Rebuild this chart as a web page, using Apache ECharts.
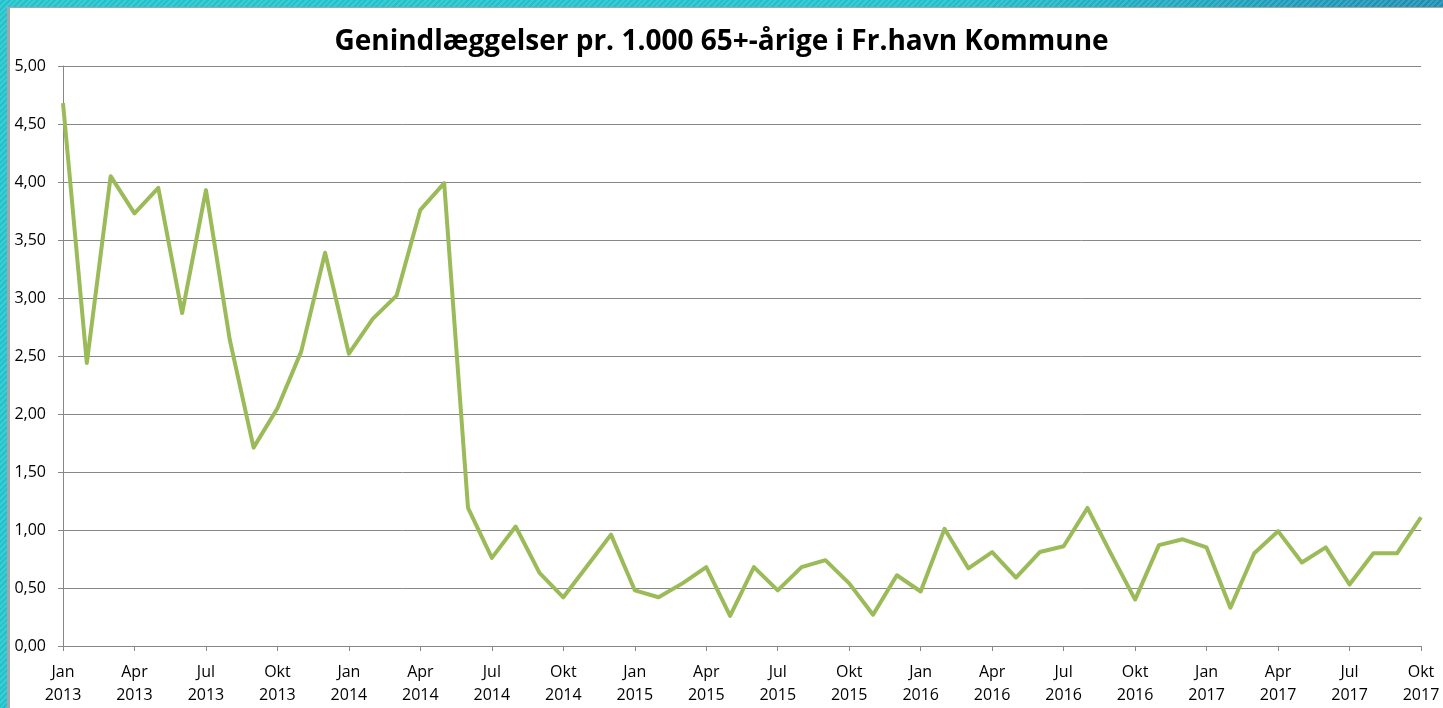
<!DOCTYPE html>
<html>
<head>
<meta charset="utf-8">
<script src="https://cdn.jsdelivr.net/npm/echarts@6/dist/echarts.min.js"></script>
<style>
  html, body {
    margin: 0;
    padding: 0;
    width: 1443px;
    height: 708px;
    overflow: hidden;
  }
  body {
    position: relative;
    background:
      repeating-linear-gradient(135deg, rgba(255,255,255,0.14) 0 2px, rgba(255,255,255,0) 2px 4px),
      linear-gradient(to right, #20c3cc 0%, #20c0cc 65%, #1b8db2 100%);
  }
  #sheet {
    position: absolute;
    left: 7px;
    top: 7px;
    right: 0;
    bottom: 0;
    background: #fff;
    border-left: 3px solid #a6a6a6;
    border-top: 1px solid #a6a6a6;
  }
  #chart {
    position: absolute;
    left: 0;
    top: 0;
    width: 1443px;
    height: 708px;
  }
</style>
</head>
<body>
<div id="sheet"></div>
<div id="chart"></div>
<script>
const months = ['Jan', 'Feb', 'Mar', 'Apr', 'Maj', 'Jun', 'Jul', 'Aug', 'Sep', 'Okt', 'Nov', 'Dec']
const years = [2013, 2014, 2015, 2016, 2017]
const monthsInLastYear = 10

// genindlæggelser pr. 1.000 65+-årige, en værdi pr. måned
const values2013 = [4.68, 2.44, 4.05, 3.73, 3.95, 2.87, 3.93, 2.64, 1.71, 2.05, 2.54, 3.39]
const values2014 = [2.52, 2.82, 3.02, 3.76, 3.99, 1.19, 0.76, 1.03, 0.63, 0.42, 0.69, 0.96]
const values2015 = [0.48, 0.42, 0.54, 0.68, 0.26, 0.68, 0.48, 0.68, 0.74, 0.54, 0.27, 0.61]
const values2016 = [0.47, 1.01, 0.67, 0.81, 0.59, 0.81, 0.86, 1.19, 0.79, 0.40, 0.87, 0.92]
const values2017 = [0.85, 0.33, 0.80, 0.99, 0.72, 0.85, 0.53, 0.80, 0.80, 1.11]

const yTicks = [0, 0.5, 1, 1.5, 2, 2.5, 3, 3.5, 4, 4.5, 5]

const categories = []
years.forEach(y => {
  const n = y === years[years.length - 1] ? monthsInLastYear : 12
  for (let m = 0; m < n; m++) {
    categories.push(months[m] + '\n' + y)
  }
})
const values = [].concat(values2013, values2014, values2015, values2016, values2017)

const labelFont = '"Open Sans", "DejaVu Sans", sans-serif'
const gridColor = '#878787'

const chart = echarts.init(document.getElementById('chart'), null, { renderer: 'canvas' })
chart.setOption({
  backgroundColor: 'transparent',
  animation: false,
  title: {
    text: 'Genindlæggelser pr. 1.000 65+-årige i Fr.havn Kommune',
    left: 'center',
    top: 23,
    textStyle: {
      fontFamily: labelFont,
      fontWeight: 'bold',
      fontSize: 28,
      color: '#000'
    }
  },
  grid: {
    left: 63,
    right: 22,
    top: 66,
    bottom: 62
  },
  xAxis: {
    type: 'category',
    data: categories,
    boundaryGap: false,
    axisLine: {
      lineStyle: { color: gridColor, width: 1 }
    },
    axisTick: {
      interval: 2,
      length: 5,
      lineStyle: { color: gridColor }
    },
    axisLabel: {
      interval: 2,
      margin: 15,
      fontFamily: labelFont,
      fontSize: 16,
      lineHeight: 23,
      color: '#000',
      showMaxLabel: true
    },
    splitLine: { show: false }
  },
  yAxis: {
    type: 'value',
    min: yTicks[0],
    max: yTicks[yTicks.length - 1],
    interval: yTicks[1] - yTicks[0],
    axisLine: {
      show: true,
      lineStyle: { color: gridColor, width: 1 }
    },
    axisTick: {
      show: true,
      length: 5,
      lineStyle: { color: gridColor }
    },
    axisLabel: {
      margin: 17,
      fontFamily: labelFont,
      fontSize: 16,
      color: '#000',
      formatter: v => v.toFixed(2).replace('.', ',')
    },
    splitLine: {
      lineStyle: { color: gridColor, width: 1 }
    }
  },
  series: [{
    name: 'Genindlæggelser',
    type: 'line',
    data: values,
    symbol: 'none',
    lineStyle: {
      color: '#9bbb59',
      width: 4,
      join: 'round'
    }
  }]
})
</script>
</body>
</html>
